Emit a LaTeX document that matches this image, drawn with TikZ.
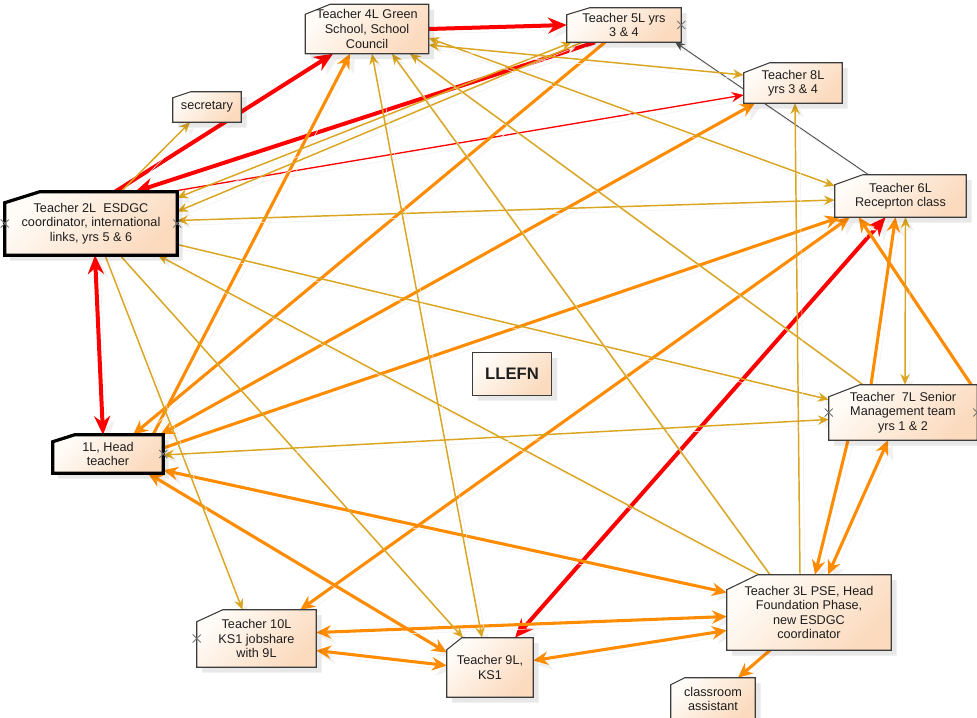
\documentclass[tikz,border=0pt]{standalone}
\usepackage{fontspec}
\setmainfont{Liberation Sans}
\usetikzlibrary{arrows.meta}

\definecolor{cRed}{HTML}{FF0000}
\definecolor{cOrange}{HTML}{FF8C00}
\definecolor{cGold}{HTML}{DAA520}
\definecolor{cGray}{HTML}{505050}
\definecolor{boxLine}{HTML}{3C3C3C}
\definecolor{boxA}{HTML}{FFFCF8}
\definecolor{boxB}{HTML}{FBDABD}
\definecolor{ink}{HTML}{1E1E1E}

\pgfdeclarelayer{paper}
\pgfdeclarelayer{edges}
\pgfdeclarelayer{boxes}
\pgfsetlayers{paper,edges,boxes,main}

\tikzset{
  lbl/.style={inner sep=0pt, align=center, text=ink, font=\fontsize{9.5}{10.9}\selectfont},
  thinframe/.style={draw=boxLine, line width=0.8pt, line join=miter},
  thickframe/.style={draw=black, line width=2.4pt, line join=miter},
  boxfill/.style={top color=boxA, bottom color=boxB, shading angle=45},
  boxshadow/.style={fill=black, opacity=0.09},
  edgeshadow/.style={preaction={draw=black!6, transform canvas={xshift=3.5pt,yshift=-3.5pt}}},
  redthick/.style={edgeshadow, draw=cRed, line width=3pt, >={Stealth[length=14pt,width=12pt]}},
  redthin/.style={edgeshadow, draw=cRed, line width=1pt, >={Stealth[length=9pt,width=7.5pt]}},
  orangeline/.style={edgeshadow, draw=cOrange, line width=2.3pt, >={Stealth[length=11pt,width=10pt]}},
  goldline/.style={edgeshadow, draw=cGold, line width=1.1pt, >={Stealth[length=8pt,width=7pt]}},
  grayline/.style={edgeshadow, draw=cGray, line width=0.7pt, >={Stealth[length=7pt,width=6pt]}},
  xmark/.style={draw=black!55, line width=0.6pt},
}

% box outline with a cut top-left corner: node, cut width, cut height, frame style
\newcommand\chbox[4]{%
  \begin{pgfonlayer}{boxes}
    \fill[boxshadow, transform canvas={xshift=4pt,yshift=-4pt}]
      ([yshift=-#3]#1.north west) -- ([xshift=#2]#1.north west) -- (#1.north east)
      -- (#1.south east) -- (#1.south west) -- cycle;
    \shade[boxfill]
      ([yshift=-#3]#1.north west) -- ([xshift=#2]#1.north west) -- (#1.north east)
      -- (#1.south east) -- (#1.south west) -- cycle;
    \draw[#4]
      ([yshift=-#3]#1.north west) -- ([xshift=#2]#1.north west) -- (#1.north east)
      -- (#1.south east) -- (#1.south west) -- cycle;
  \end{pgfonlayer}}

% small cross marker on a box side
\newcommand\xmk[1]{%
  \draw[xmark] ([shift={(-4,-4)}]#1) -- ([shift={(4,4)}]#1)
               ([shift={(-4,4)}]#1) -- ([shift={(4,-4)}]#1);}

\begin{document}
\begin{tikzpicture}[x=0.75pt, y=-0.75pt]
  \useasboundingbox (0,0) rectangle (977,717);
  \begin{pgfonlayer}{paper}
    \fill[white] (0,0) rectangle (977,717);
  \end{pgfonlayer}

  % ---- nodes ----
  \node[lbl, minimum width=51pt, minimum height=22.5pt] (sec) at (207,107) {secretary};
  \node[lbl, minimum width=92.25pt, minimum height=36.75pt] (t4) at (367,29)
    {Teacher 4L Green\\School, School\\Council};
  \node[lbl, minimum width=85.5pt, minimum height=25.5pt] (t5) at (624,25)
    {Teacher 5L yrs\\3 \& 4};
  \node[lbl, minimum width=73.5pt, minimum height=30pt] (t8) at (793,83)
    {Teacher 8L\\yrs 3 \& 4};
  \node[lbl, minimum width=129pt, minimum height=47.25pt] (t2) at (91,223.5)
    {Teacher 2L~ ESDGC\\coordinator, international\\links, yrs 5 \& 6};
  \node[lbl, minimum width=98.25pt, minimum height=31.5pt] (t6) at (900.5,196)
    {Teacher 6L\\Receprton class};
  \node[lbl, minimum width=59.25pt, minimum height=31.5pt,
        font=\fontsize{12.5}{14}\selectfont\bfseries] (llefn) at (512,374) {LLEFN};
  \node[lbl, minimum width=111pt, minimum height=41.25pt] (t7) at (903,412.5)
    {Teacher~ 7L Senior\\Management team\\yrs 1 \& 2};
  \node[lbl, minimum width=82.5pt, minimum height=28.5pt] (l1) at (108,454)
    {1L, Head\\teacher};
  \node[lbl, minimum width=123pt, minimum height=56.25pt] (t3) at (809,612.5)
    {Teacher 3L PSE, Head\\Foundation Phase,\\new ESDGC\\coordinator};
  \node[lbl, minimum width=89.25pt, minimum height=42.75pt] (t10) at (256.5,638.5)
    {Teacher 10L\\KS1 jobshare\\with 9L};
  \node[lbl, minimum width=64.5pt, minimum height=44.25pt] (t9) at (490,667.5)
    {Teacher 9L,\\KS1};
  \node[lbl, minimum width=63pt, minimum height=31.5pt] (ca) at (713,699)
    {classroom\\assistant};

  % ---- box outlines ----
  \chbox{sec}{13.5pt}{4.5pt}{thinframe}
  \chbox{t4}{18.75pt}{7.5pt}{thinframe}
  \chbox{t5}{17.25pt}{5.25pt}{thinframe}
  \chbox{t8}{19.5pt}{7.5pt}{thinframe}
  \chbox{t2}{26.25pt}{8.25pt}{thickframe}
  \chbox{t6}{21pt}{7.5pt}{thinframe}
  \chbox{llefn}{0pt}{0pt}{thinframe}
  \chbox{t7}{23.25pt}{9pt}{thinframe}
  \chbox{l1}{16.5pt}{5.25pt}{thickframe}
  \chbox{t3}{23.25pt}{11.25pt}{thinframe}
  \chbox{t10}{19.5pt}{9pt}{thinframe}
  \chbox{t9}{11.25pt}{9pt}{thinframe}
  \chbox{ca}{10.5pt}{5.25pt}{thinframe}

  % ---- side markers ----
  \xmk{t2.west}
  \xmk{t2.east}
  \xmk{t5.east}
  \xmk{l1.east}
  \xmk{t7.west}
  \xmk{t7.east}
  \xmk{t10.west}

  % ---- connectors ----
  \begin{pgfonlayer}{edges}
    % red links
    \draw[redthick,->] (t4.east) -- (t5.west);
    \draw[redthick,->] ([shift={(24,0)}]t2.north) -- ([shift={(-34,0)}]t4.south);
    \draw[redthick,->] ([shift={(-29,0)}]t5.south) -- ([shift={(44,0)}]t2.north);
    \draw[redthin,->] ([shift={(-7,0)}]t2.north east) -- ([shift={(0,12)}]t8.west);
    \draw[redthick,<->] ([shift={(4,0)}]t2.south) -- ([shift={(-5,0)}]l1.north);
    \draw[redthick,<->] ([shift={(25,0)}]t9.north) -- ([shift={(-15,0)}]t6.south);
    % grey link
    \draw[grayline,->] ([shift={(-32,0)}]t6.north) -- ([shift={(-6,0)}]t5.south east);
    % orange links
    \draw[orangeline,->] ([shift={(45,0)}]l1.north) -- ([shift={(-17,0)}]t4.south);
    \draw[orangeline,->] ([shift={(-19,0)}]t5.south) -- ([shift={(25,0)}]l1.north);
    \draw[orangeline,<->] ([shift={(-3,0)}]l1.north east) -- ([shift={(-38,0)}]t8.south);
    \draw[orangeline,->] ([shift={(0,-6)}]l1.east) -- ([shift={(5,0)}]t6.south west);
    \draw[orangeline,<->] ([shift={(15,0)}]t6.south west) -- ([shift={(-16,0)}]t10.north east);
    \draw[orangeline,<->] ([shift={(0,-3)}]l1.south east) -- ([shift={(0,-20)}]t3.west);
    \draw[orangeline,<->] ([shift={(40,0)}]l1.south) -- ([shift={(0,-15)}]t9.west);
    \draw[orangeline,<->] ([shift={(0,-6)}]t10.east) -- ([shift={(0,4)}]t3.west);
    \draw[orangeline,<->] ([shift={(0,12)}]t10.east) -- ([shift={(0,-2)}]t9.west);
    \draw[orangeline,<->] ([shift={(0,-7)}]t9.east) -- ([shift={(0,18)}]t3.west);
    \draw[orangeline,->] ([shift={(-39,0)}]t3.south) -- ([shift={(25,0)}]ca.north);
    \draw[orangeline,->] ([shift={(-55,0)}]t7.south) -- ([shift={(6,0)}]t3.north);
    \draw[orangeline,<->] ([shift={(19,0)}]t3.north) -- ([shift={(-15,0)}]t7.south);
    \draw[orangeline,->] ([shift={(-32,0)}]t7.north) -- ([shift={(-5,0)}]t6.south);
    \draw[orangeline,->] ([shift={(-6,0)}]t7.north east) -- ([shift={(24,0)}]t6.south west);
    % goldenrod links
    \draw[goldline,->] ([shift={(30,0)}]t2.north) -- ([shift={(-17,0)}]sec.south);
    \draw[goldline,<->] ([shift={(0,6)}]t2.north east) -- ([shift={(5,0)}]t5.south west);
    \draw[goldline,->] ([shift={(-42,0)}]t5.south) -- ([shift={(0,-12)}]t2.east);
    \draw[goldline,<->] ([shift={(0,-3)}]t2.east) -- ([shift={(0,4)}]t6.west);
    \draw[goldline,->] ([shift={(0,21)}]t2.east) -- ([shift={(0,-13)}]t7.west);
    \draw[goldline,->] ([shift={(-50,0)}]t3.north) -- ([shift={(67,0)}]t2.south);
    \draw[goldline,->] ([shift={(29,0)}]t2.south) -- ([shift={(-27,0)}]t9.north);
    \draw[goldline,->] ([shift={(14,0)}]t2.south) -- ([shift={(-14,0)}]t10.north);
    \draw[goldline,<->] ([shift={(5,0)}]t4.south) -- ([shift={(-8,0)}]t9.north);
    \draw[goldline,->] ([shift={(-39,0)}]t3.north) -- ([shift={(25,0)}]t4.south);
    \draw[goldline,->] ([shift={(-40,0)}]t7.north) -- ([shift={(43,0)}]t4.south);
    \draw[goldline,<->] ([shift={(0,9)}]t4.east) -- ([shift={(0,-10)}]t6.west);
    \draw[goldline,<->] ([shift={(0,16)}]t4.east) -- ([shift={(0,-8)}]t8.west);
    \draw[goldline,->] ([shift={(-9,0)}]t3.north) -- ([shift={(2,0)}]t8.south);
    \draw[goldline,<->] ([shift={(5,0)}]t6.south) -- ([shift={(2,0)}]t7.north);
    \draw[goldline,<->] ([shift={(0,1)}]l1.east) -- ([shift={(0,7)}]t7.west);
  \end{pgfonlayer}
\end{tikzpicture}
\end{document}
